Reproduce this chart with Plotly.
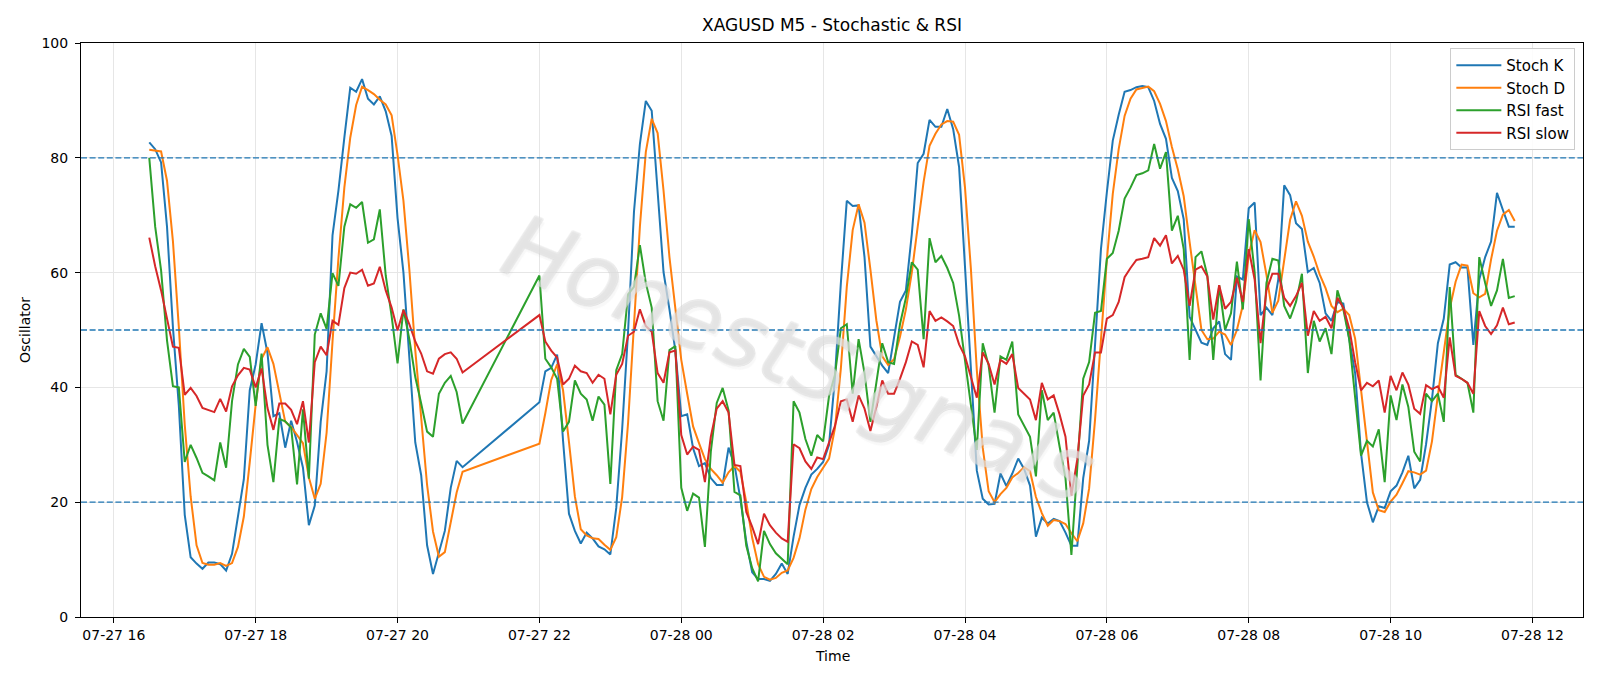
import pandas as pd
import plotly.graph_objects as go

# ---- time axis: two continuous 5-minute segments (gap 21:00-21:55) ----
seg_a_start = "2025-07-27 16:30"
seg_a_len = 54
seg_b_start = "2025-07-27 22:00"
seg_b_len = 166

stoch_k = [
    82.7, 81.5, 79.2, 68.0, 50.5, 36.8, 17.8, 10.4, 9.3, 8.4,
    9.5, 9.5, 9.2, 8.1, 11.0, 17.5, 24.0, 39.5, 44.0, 51.2,
    46.0, 35.0, 35.5, 29.5, 34.2, 30.5, 26.0, 16.0, 19.4, 34.0,
    42.8, 66.5, 74.3, 83.5, 92.2, 91.5, 93.7, 90.3, 89.3, 90.7,
    88.1, 83.8, 69.5, 60.0, 45.0, 30.4, 24.7, 12.5, 7.5, 11.4,
    15.0, 22.5, 27.2, 26.1,
    37.4, 42.8, 43.4, 45.7, 30.7, 18.0, 15.0, 12.8, 14.7, 13.7,
    12.3, 11.8, 10.9, 19.0, 32.7, 49.7, 70.6, 82.4, 89.9, 88.2,
    74.5, 60.1, 53.6, 46.4, 35.0, 35.3, 29.4, 26.3, 26.8, 24.2,
    23.0, 23.0, 29.5, 26.5, 20.6, 13.1, 7.8, 6.6, 6.6, 6.3,
    7.5, 9.3, 7.5, 14.0, 19.5, 22.5, 24.8, 25.8, 27.0, 30.0,
    41.8, 58.2, 72.5, 71.6, 71.7, 62.7, 47.1, 45.4, 43.8, 42.5,
    48.5, 54.9, 56.9, 66.7, 79.1, 80.7, 86.6, 85.4, 85.4, 88.5,
    85.0, 78.4, 61.0, 42.5, 25.5, 20.6, 19.6, 19.7, 25.0, 22.8,
    25.0, 27.6, 25.8, 22.9, 14.0, 17.3, 16.3, 17.1, 16.7, 14.7,
    12.4, 12.4, 24.2, 30.7, 48.4, 64.1, 74.0, 83.0, 87.5, 91.5,
    91.8, 92.3, 92.5, 92.3, 89.9, 85.9, 83.3, 76.5, 74.2, 69.3,
    52.3, 50.0, 47.8, 47.4, 50.3, 51.5, 45.8, 44.8, 59.3, 58.8,
    71.2, 72.2, 52.6, 53.9, 52.6, 58.8, 75.2, 73.5, 68.6, 67.6,
    60.1, 60.8, 58.2, 52.9, 51.6, 54.9, 54.6, 48.4, 42.5, 28.5,
    20.0, 16.5, 19.3, 19.0, 21.9, 22.9, 25.2, 28.1, 22.4, 23.9,
    30.1, 37.9, 47.7, 52.0, 61.4, 61.8, 60.9, 60.9, 47.4, 58.8,
    62.7, 65.4, 73.9, 70.9, 68.0, 68.0,
]

stoch_d = [
    81.4, 81.2, 81.1, 76.0, 65.5, 50.5, 33.5, 21.0, 12.5, 9.4,
    9.1, 9.1, 9.4, 8.9, 9.4, 12.2, 17.5, 27.0, 37.0, 45.0,
    47.0, 44.1, 39.0, 34.0, 33.1, 31.6, 30.3, 24.3, 20.6, 23.2,
    32.1, 48.0, 62.5, 74.8, 83.5, 89.2, 92.4, 91.8, 91.1, 90.1,
    89.3, 87.4, 80.5, 72.5, 60.5, 46.5, 34.0, 23.0, 14.9, 10.5,
    11.3, 16.5, 21.7, 25.3,
    30.2, 35.5, 41.3, 44.0, 39.5, 30.5, 21.0, 15.3, 14.2, 13.7,
    13.6, 12.6, 11.7, 13.9, 20.9, 33.8, 51.5, 68.0, 81.0, 86.8,
    84.3, 74.3, 62.7, 53.2, 44.8, 38.9, 33.2, 30.3, 27.5, 25.8,
    24.7, 23.4, 25.2, 26.3, 25.3, 20.0, 13.8, 9.2, 7.0, 6.5,
    6.8, 7.7, 8.1, 10.3, 13.7, 18.7, 22.3, 24.4, 25.9, 27.6,
    32.9, 43.3, 57.5, 67.4, 71.9, 68.7, 60.5, 51.7, 45.4, 43.9,
    44.9, 48.8, 53.6, 60.0, 68.0, 75.8, 82.1, 84.2, 85.8, 86.4,
    86.3, 84.0, 74.8, 60.6, 43.0, 29.5, 21.9, 20.0, 21.4, 22.5,
    24.3, 25.1, 26.1, 25.4, 20.9, 18.1, 15.9, 16.9, 16.7, 16.2,
    14.6, 13.2, 16.3, 22.4, 34.4, 47.7, 62.2, 73.7, 81.5, 87.3,
    90.3, 91.9, 92.2, 92.4, 91.6, 89.4, 86.4, 81.9, 78.0, 73.3,
    65.3, 57.2, 50.0, 48.4, 48.5, 49.7, 49.2, 47.4, 50.0, 54.3,
    63.1, 67.4, 65.3, 59.6, 53.0, 55.1, 62.2, 69.2, 72.4, 69.9,
    65.4, 62.8, 59.7, 57.3, 54.2, 53.1, 53.7, 52.6, 48.5, 39.8,
    30.3, 21.7, 18.6, 18.3, 20.1, 21.3, 23.3, 25.4, 25.2, 24.8,
    25.5, 30.6, 38.6, 45.9, 53.7, 58.4, 61.4, 61.2, 56.4, 55.7,
    56.3, 62.3, 67.3, 70.1, 70.9, 69.0,
]

rsi_fast = [
    80.0, 68.0, 60.4, 48.2, 40.2, 40.0, 27.0, 30.0, 27.7, 25.1,
    24.5, 23.8, 30.4, 26.0, 37.6, 44.0, 46.7, 45.3, 36.8, 45.9,
    30.0, 23.5, 34.5, 34.1, 33.0, 23.1, 36.2, 24.1, 49.2, 52.9,
    50.2, 59.9, 57.7, 68.0, 71.9, 71.3, 72.3, 65.2, 65.8, 71.0,
    59.5, 52.4, 44.2, 53.6, 48.4, 41.8, 37.2, 32.3, 31.4, 38.9,
    40.8, 42.0, 39.2, 33.7,
    59.5, 45.0, 43.5, 41.5, 32.3, 34.0, 41.2, 38.9, 37.9, 34.2,
    38.4, 37.0, 23.2, 43.0, 45.8, 56.2, 57.5, 64.8, 58.2, 53.9,
    37.6, 34.2, 46.5, 47.2, 22.5, 18.5, 21.5, 20.8, 12.2, 28.8,
    37.3, 39.9, 36.0, 21.8, 21.2, 12.4, 8.5, 6.2, 15.0, 12.7,
    11.1, 10.1, 9.2, 37.6, 35.6, 31.0, 28.1, 31.7, 30.6, 38.5,
    42.2, 50.3, 51.0, 38.9, 48.4, 42.5, 34.0, 40.8, 47.7, 44.4,
    44.1, 51.0, 55.6, 61.8, 60.5, 48.4, 66.0, 61.8, 62.9, 60.8,
    58.2, 52.5, 45.0, 37.5, 29.1, 47.7, 43.8, 35.6, 45.4, 44.8,
    48.0, 35.3, 33.3, 31.4, 24.5, 39.5, 34.3, 35.6, 29.7, 24.2,
    10.8, 26.0, 41.5, 44.4, 53.0, 53.3, 62.4, 63.4, 67.3, 72.9,
    74.8, 77.0, 77.3, 77.8, 82.4, 78.1, 81.0, 67.3, 69.9, 64.1,
    44.8, 62.7, 63.7, 59.5, 44.8, 57.8, 50.0, 52.9, 61.9, 53.6,
    69.3, 60.1, 41.2, 58.2, 62.4, 62.1, 54.2, 52.0, 54.9, 59.8,
    42.5, 51.6, 48.0, 50.3, 45.8, 56.9, 53.6, 48.4, 38.6, 28.1,
    30.7, 29.7, 32.7, 23.5, 38.6, 34.3, 40.5, 36.6, 28.8, 27.1,
    38.9, 37.6, 38.9, 34.0, 57.5, 42.2, 41.5, 40.8, 35.6, 62.7,
    58.2, 54.2, 56.9, 62.4, 55.6, 55.9,
]

rsi_slow = [
    66.1, 61.1, 56.9, 52.0, 47.1, 46.9, 38.7, 39.9, 38.5, 36.4,
    36.1, 35.7, 38.0, 35.8, 40.2, 42.1, 43.4, 43.1, 40.0, 43.3,
    36.4, 32.6, 37.2, 37.2, 36.1, 33.6, 37.6, 30.4, 44.4, 47.1,
    45.6, 51.6, 50.9, 57.3, 60.0, 59.8, 60.5, 57.7, 58.1, 61.0,
    56.9, 53.9, 49.9, 53.5, 51.0, 48.0, 45.9, 42.8, 42.4, 45.0,
    45.8, 46.1, 45.0, 42.6,
    52.6, 48.0, 46.4, 45.2, 40.5, 41.5, 43.8, 42.8, 42.5, 40.8,
    42.2, 41.5, 35.3, 42.2, 44.1, 49.0, 49.7, 53.6, 50.7, 49.7,
    42.5, 40.8, 46.1, 46.4, 31.7, 28.3, 29.7, 29.1, 23.5, 31.4,
    36.3, 37.6, 35.6, 26.5, 26.3, 18.3, 15.7, 12.7, 18.0, 16.0,
    14.7, 13.7, 13.1, 30.1, 29.4, 27.1, 25.8, 27.8, 27.5, 30.6,
    33.3, 37.6, 37.9, 34.0, 38.6, 36.3, 32.4, 36.6, 41.2, 38.9,
    38.9, 41.5, 44.4, 48.0, 47.4, 43.5, 53.3, 51.6, 52.2, 51.5,
    50.7, 47.5, 45.4, 41.8, 38.2, 46.1, 44.1, 40.5, 44.8, 44.1,
    45.8, 39.9, 38.9, 37.9, 34.3, 40.8, 37.9, 38.6, 35.3, 31.4,
    21.2, 27.5, 38.6, 40.5, 46.1, 46.1, 52.0, 52.6, 54.9, 59.2,
    60.8, 62.2, 62.4, 62.7, 66.0, 64.7, 66.5, 61.6, 62.9, 60.5,
    54.2, 60.5, 61.1, 59.3, 51.8, 57.8, 53.7, 54.9, 59.1, 54.9,
    64.1, 58.8, 47.7, 56.9, 59.8, 59.8, 55.6, 54.2, 55.9, 58.2,
    49.0, 53.3, 51.6, 52.3, 50.3, 55.6, 53.9, 50.3, 44.4, 39.5,
    40.8, 40.2, 41.2, 35.6, 42.0, 39.5, 42.6, 40.5, 36.3, 35.4,
    40.4, 39.7, 40.2, 38.2, 48.7, 42.0, 41.5, 40.8, 38.9, 53.3,
    50.7, 49.3, 50.8, 53.9, 51.0, 51.3,
]

levels = [20, 50, 80]
series_names = ["Stoch K", "Stoch D", "RSI fast", "RSI slow"]
series_colors = ["#1f77b4", "#ff7f0e", "#2ca02c", "#d62728"]

times = list(pd.date_range(seg_a_start, periods=seg_a_len, freq="5min")) + \
        list(pd.date_range(seg_b_start, periods=seg_b_len, freq="5min"))
times = [t.strftime("%Y-%m-%d %H:%M") for t in times]

FONT = "DejaVu Sans"
fig = go.Figure()
for name, vals, col in zip(series_names, [stoch_k, stoch_d, rsi_fast, rsi_slow], series_colors):
    fig.add_trace(go.Scatter(x=times, y=vals, mode="lines", name=name,
                             line=dict(color=col, width=2)))

for lv in levels:
    fig.add_shape(type="line", xref="paper", x0=0, x1=1, yref="y", y0=lv, y1=lv,
                  line=dict(color="#1f77b4", width=1.3, dash="6px,2.6px"), layer="above")

# watermark (thin light outline with soft shadow)
oc = "rgba(195,195,195,0.6)"
fig.add_annotation(text="HonestSignals", xref="paper", yref="paper", x=0.478, y=0.45,
                   showarrow=False, textangle=22,
                   font=dict(family=FONT, size=88, color="rgba(255,255,255,0.35)", style="italic",
                             shadow=f"-1px 0 0 {oc}, 1px 0 0 {oc}, 0 -1px 0 {oc}, 0 1px 0 {oc}, "
                                    "3px 3px 1px rgba(185,185,185,0.3)"))

axis_common = dict(showline=True, mirror=True, linecolor="black", linewidth=1,
                   ticks="outside", ticklen=5, tickwidth=1, tickcolor="black",
                   showgrid=True, gridcolor="#e6e6e6", gridwidth=1, zeroline=False,
                   tickfont=dict(family=FONT, size=14, color="black"))

fig.update_layout(
    width=1600, height=686,
    margin=dict(l=81, r=17, t=43, b=69),
    paper_bgcolor="white", plot_bgcolor="white",
    font=dict(family=FONT, color="black"),
    title=dict(text="XAGUSD M5 - Stochastic & RSI", x=0.5, xref="paper", xanchor="center",
               y=1 - 25.5 / 686, yref="container", yanchor="middle",
               font=dict(family=FONT, size=17, color="black")),
    xaxis=dict(type="date", range=["2025-07-27 15:32:15", "2025-07-28 12:42:45"],
               tick0="2025-07-27 00:00", dtick=7200000, tickformat="%m-%d %H", **axis_common),
    yaxis=dict(range=[0, 100], dtick=20, tick0=0, ticklabelstandoff=4, **axis_common),
    legend=dict(x=0.9949, y=0.9913, xanchor="right", yanchor="top", itemwidth=45,
                bgcolor="rgba(255,255,255,0.85)", bordercolor="#cccccc", borderwidth=1,
                font=dict(family=FONT, size=15, color="black")),
    showlegend=True,
)

fig.add_annotation(text="Time", xref="paper", yref="paper", x=0.5, y=-(656 - 617) / 574,
                   showarrow=False, font=dict(family=FONT, size=14, color="black"),
                   xanchor="center", yanchor="middle")
fig.add_annotation(text="Oscillator", xref="paper", yref="paper", x=(25 - 81) / 1502, y=0.5,
                   showarrow=False, textangle=-90, font=dict(family=FONT, size=14, color="black"),
                   xanchor="center", yanchor="middle")

fig.write_html("out.html")
